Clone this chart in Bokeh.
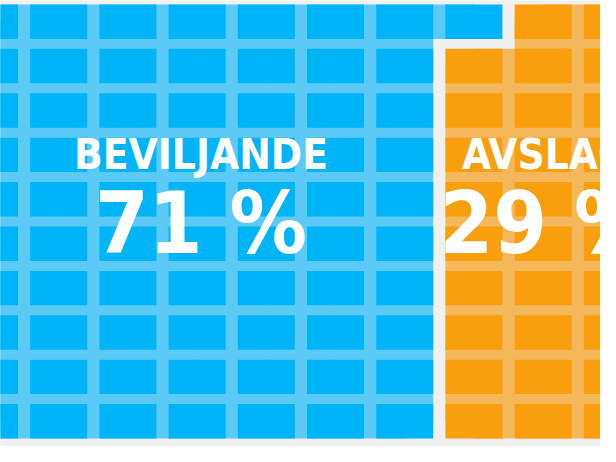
import numpy as np
from bokeh.plotting import figure
from bokeh.models import Range1d, ColumnDataSource
from bokeh.core.properties import value
from bokeh.embed import file_html
from bokeh.resources import INLINE

# ---- data ----
categories = ["BEVILJANDE", "AVSLAG"]
shares = [71, 29]
pct_labels = ["71 %", "29 %"]
cell_colors = ["#00b4f8", "#f99e0c"]
gap_colors = ["#5ccaf6", "#f4b85b"]
n_rows = 10
n_cols = 10

# ---- layout constants ----
CELL_W = 0.824
CELL_H = 0.775
FONT = value("DejaVu Sans Condensed, DejaVu Sans, sans-serif")

# assign waffle cells column by column, top to bottom
flat = []
for ci, s in enumerate(shares):
    flat += [ci] * s
grid = np.full((n_cols, n_rows), -1, dtype=int)
for idx, ci in enumerate(flat):
    grid[idx // n_rows, idx % n_rows] = ci

cells = dict(x=[], y=[], c=[])
br = dict(x=[], y=[], w=[], h=[], c=[])
for col in range(n_cols):
    for row in range(n_rows):
        k = grid[col, row]
        cells["x"].append(col); cells["y"].append(row); cells["c"].append(cell_colors[k])
        if col + 1 < n_cols and grid[col + 1, row] == k:
            br["x"].append(col + 0.5); br["y"].append(row)
            br["w"].append(1.0); br["h"].append(CELL_H); br["c"].append(gap_colors[k])
        if row + 1 < n_rows and grid[col, row + 1] == k:
            br["x"].append(col); br["y"].append(row + 0.5)
            br["w"].append(CELL_W); br["h"].append(1.0); br["c"].append(gap_colors[k])
        if (col + 1 < n_cols and row + 1 < n_rows and grid[col + 1, row] == k
                and grid[col, row + 1] == k and grid[col + 1, row + 1] == k):
            br["x"].append(col + 0.5); br["y"].append(row + 0.5)
            br["w"].append(1.0); br["h"].append(1.0); br["c"].append(gap_colors[k])

p = figure(width=600, height=446, output_backend="svg", toolbar_location=None,
           x_range=Range1d(0.159, 8.829), y_range=Range1d(9.568, -0.477),
           min_border=0, x_axis_location=None, y_axis_location=None,
           background_fill_color="#f0f0f0", border_fill_color="#f0f0f0",
           outline_line_color=None)
p.grid.visible = False

p.rect(x="x", y="y", width="w", height="h", fill_color="c", line_color=None,
       source=ColumnDataSource(br))
p.rect(x="x", y="y", width=CELL_W, height=CELL_H, fill_color="c", line_color=None,
       source=ColumnDataSource(cells))

# label positions: mean column of each category's cells
cx = []
for ci in range(len(categories)):
    cols = [idx // n_rows for idx, k in enumerate(flat) if k == ci]
    cx.append(float(np.mean(cols)))

p.text(x=cx, y=[2.99] * 2, text=categories, text_font=FONT, text_font_size="42px",
       text_font_style="bold", text_color="white", text_align="center",
       text_baseline="middle")
p.text(x=cx, y=[4.54] * 2, text=pct_labels, text_font=FONT, text_font_size="86px",
       text_font_style="bold", text_color="white", text_align="center",
       text_baseline="middle")

open("out.html", "w").write(file_html(p, INLINE))
